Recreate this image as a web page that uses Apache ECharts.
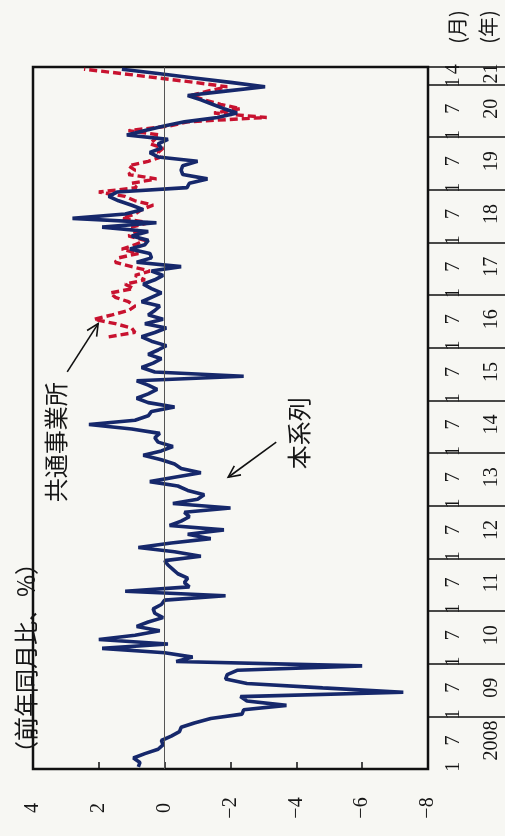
<!DOCTYPE html>
<html>
<head>
<meta charset="utf-8">
<script src="https://cdn.jsdelivr.net/npm/echarts@6/dist/echarts.min.js"></script>
<style>
html,body{margin:0;padding:0;background:#f7f7f3;}
#c{width:505px;height:836px;}
</style>
</head>
<body>
<div id="c"></div>
<script>
// ---------- data ----------
const yearLabels = ['2008','09','10','11','12','13','14','15','16','17','18','19','20','21'];
const firstYear = 2008;
const lastYearMonths = 4; // data runs to April 2021
const monthMarks = [1, 7];
const valueMin = -8, valueMax = 4, valueInterval = 2;

// 本系列 (monthly, Jan 2008 - Apr 2021)
const honkeiretsu = [
  // 2008
  0.8, 0.75, 0.95, 0.6, 0.2, 0.05, 0.1, -0.2, -0.45, -0.5, -0.9, -1.4,
  // 2009
  -2.35, -2.4, -3.7, -2.5, -2.3, -7.25, -4.8, -2.5, -1.85, -1.9, -2.2, -6.0,
  // 2010
  -0.35, -0.85, 0.0, 1.9, -0.1, 2.0, 0.9, 0.15, 0.85, 0.5, 0.05, 0.3,
  // 2011
  0.35, 0.1, 0.0, -1.85, 1.2, -0.75, -0.6, -0.7, -0.4, -0.25, -0.1, 0.0,
  // 2012
  -1.1, -0.3, 0.8, -0.2, -1.4, -0.7, -1.8, -0.15, -0.5, -0.75, -0.6, -2.0,
  // 2013
  -0.25, -1.0, -1.2, -0.7, -0.4, 0.45, -0.3, -1.1, -0.5, -0.3, 0.1, 0.65,
  // 2014
  0.1, -0.25, 0.2, 0.3, 0.15, 1.0, 2.3, 0.9, 0.5, 0.4, -0.3, 0.5,
  // 2015
  0.85, 0.5, 0.23, 0.5, 0.85, -2.4, 0.3, 0.7, 0.35, 0.1, 0.5, 0.2,
  // 2016
  -0.05, 0.4, 0.7, 0.3, -0.05, 0.6, 0.05, 0.5, 0.3, 0.15, 0.7, 0.4,
  // 2017
  0.1, 0.4, 0.65, 0.3, 0.05, 0.4, -0.5, 0.85, 0.4, 0.45, 1.05, 0.6,
  // 2018
  0.5, 1.0, 0.5, 1.9, 0.25, 2.8, 1.2, 0.65, 1.0, 1.4, 1.7, 1.45,
  // 2019
  -0.68, -0.75, -1.3, -0.55, -0.5, -0.55, -1.0, 0.2, 0.45, 0.1, 0.2, -0.1,
  // 2020
  1.15, 0.6, 0.05, -0.6, -1.6, -2.2, -1.8, -1.45, -1.1, -0.7, -1.85, -3.05,
  // 2021
  -2.0, -0.9, 0.2, 1.3
];

// 共通事業所 (from Mar 2016)
const kyotsuJigyosho = [
  // 2008-2015
  null,null,null,null,null,null,null,null,null,null,null,null,
  null,null,null,null,null,null,null,null,null,null,null,null,
  null,null,null,null,null,null,null,null,null,null,null,null,
  null,null,null,null,null,null,null,null,null,null,null,null,
  null,null,null,null,null,null,null,null,null,null,null,null,
  null,null,null,null,null,null,null,null,null,null,null,null,
  null,null,null,null,null,null,null,null,null,null,null,null,
  null,null,null,null,null,null,null,null,null,null,null,null,
  // 2016
  null, null, 1.7, 0.9, 1.0, 1.5, 2.15, 1.6, 1.1, 0.9, 1.1, 1.5,
  // 2017
  1.65, 0.95, 1.2, 0.6, 0.9, 0.45, 1.0, 1.5, 1.4, 0.8, 1.3, 0.9,
  // 2018
  0.6, 1.1, 0.8, 1.0, 0.5, 1.3, 0.9, 0.7, 0.35, 0.9, 1.2, 2.0,
  // 2019
  0.85, 1.0, 0.25, 1.1, 0.9, 1.1, 0.5, 0.1, 0.2, 0.05, 0.45, 0.3,
  // 2020
  0.15, 1.1, -0.1, -0.7, -3.1, -1.5, -2.3, -1.7, -1.2, -0.8, -1.3, -1.9,
  // 2021
  -0.9, 0.2, 1.3, 2.45
];

// annotation anchors in data coordinates [value, monthIndex]
const noteKyotsu = { text: '共通事業所', at: [3.3, 74.3], from: [2.96, 89.8], to: [2.02, 100.9] };
const noteHon = { text: '本系列', at: [-4.09, 76.3], from: [-3.39, 73.8], to: [-1.93, 65.8] };

// ---------- categories ----------
const categories = [];
yearLabels.forEach((yl, k) => {
  const n = (k === yearLabels.length - 1) ? lastYearMonths : 12;
  for (let m = 1; m <= n; m++) categories.push((firstYear + k) + '/' + m);
});
const monthOf = v => Number(String(v).split('/')[1]);
const lastIndex = categories.length - 1;
const yearLabelIndex = {};
yearLabels.forEach((yl, k) => {
  const start = k * 12;
  const n = (k === yearLabels.length - 1) ? lastYearMonths : 12;
  yearLabelIndex[start + Math.floor(n / 2)] = yl;
});

const SERIF = "'Liberation Serif','DejaVu Serif',serif";
const CJK = "'Noto Sans CJK JP','Noto Sans',sans-serif";
const INK = '#161616';

const chart = echarts.init(document.getElementById('c'), null, { renderer: 'canvas' });

const option = {
  backgroundColor: '#f7f7f3',
  animation: false,
  grid: {
    left: 33, right: 77, top: 67, bottom: 67,
    show: true, borderColor: '#111', borderWidth: 2.5,
    backgroundColor: 'transparent',
    containLabel: false,
    outerBoundsMode: 'none'
  },
  xAxis: {
    type: 'value', min: valueMin, max: valueMax, interval: valueInterval,
    inverse: true, position: 'bottom',
    axisLine: { show: false, onZero: false },
    axisTick: { show: true, inside: true, length: 7, lineStyle: { color: '#111', width: 1.5 } },
    splitLine: { show: false },
    axisLabel: {
      rotate: 90, align: 'center', verticalAlign: 'middle', margin: 39,
      fontFamily: SERIF, fontSize: 20, color: INK,
      formatter: v => (v < 0 ? '\u2212' + (-v) : String(v))
    }
  },
  yAxis: [
    {
      type: 'category', data: categories, boundaryGap: true, position: 'right',
      axisLine: { show: false, onZero: false },
      axisTick: {
        show: true, inside: false, length: 77,
        interval: (i) => i > 0 && i % 12 === 0,
        lineStyle: { color: '#111', width: 1.5 }
      },
      splitLine: { show: false },
      axisLabel: {
        rotate: 90, margin: 16, fontFamily: SERIF, fontSize: 20, color: INK,
        interval: 0, hideOverlap: false,
        formatter: (v, i) => (monthMarks.indexOf(monthOf(v)) >= 0 || i === lastIndex) ? String(monthOf(v)) : ''
      }
    },
    {
      type: 'category', data: categories, boundaryGap: true, position: 'right',
      axisLine: { show: false, onZero: false }, axisTick: { show: false }, splitLine: { show: false },
      axisLabel: {
        rotate: 90, margin: 54, fontFamily: SERIF, fontSize: 20, color: INK,
        interval: 0, hideOverlap: false,
        formatter: (v, i) => yearLabelIndex[i] || ''
      }
    }
  ],
  series: [
    {
      name: '共通事業所', type: 'line', yAxisIndex: 0, data: kyotsuJigyosho,
      showSymbol: false, symbol: 'none', connectNulls: false,
      lineStyle: { color: '#c8122f', width: 3.4, type: [8, 4] },
      markLine: {
        silent: true, symbol: 'none', label: { show: false },
        lineStyle: { color: '#555', width: 1, type: 'solid' },
        data: [{ xAxis: 0 }]
      }
    },
    {
      name: '本系列', type: 'line', yAxisIndex: 0, data: honkeiretsu,
      showSymbol: false, symbol: 'none',
      lineStyle: { color: '#16286b', width: 3.6 }
    }
  ]
};
chart.setOption(option);

// ---------- annotations (positioned from data coordinates) ----------
function px(p) { return chart.convertToPixel({ gridIndex: 0 }, p); }
function arrow(from, to) {
  const a = px(from), b = px(to);
  const dx = b[0] - a[0], dy = b[1] - a[1];
  const len = Math.sqrt(dx * dx + dy * dy);
  const ux = dx / len, uy = dy / len;
  const L = 13, th = 0.45;
  const arm = s => {
    const c = Math.cos(s * th), sn = Math.sin(s * th);
    const rx = ux * c - uy * sn, ry = ux * sn + uy * c;
    return [b[0] - rx * L, b[1] - ry * L];
  };
  return [
    { type: 'line', shape: { x1: a[0], y1: a[1], x2: b[0], y2: b[1] }, style: { stroke: '#111', lineWidth: 1.6 } },
    { type: 'polyline', shape: { points: [arm(1), b, arm(-1)] }, style: { stroke: '#111', lineWidth: 1.6, fill: null } }
  ];
}
function vtext(text, x, y, size, family) {
  return {
    type: 'text', x: x, y: y, rotation: Math.PI / 2,
    style: { text: text, fontSize: size, fontFamily: family, fill: INK, align: 'center', verticalAlign: 'middle' }
  };
}
const k1 = px(noteKyotsu.at), h1 = px(noteHon.at);
chart.setOption({
  graphic: [
    vtext('（前年同月比、%）', 26, 658, 24, CJK),
    vtext('(月)', 457, 27, 20, CJK),
    vtext('(年)', 488, 27, 20, CJK),
    vtext(noteKyotsu.text, k1[0], k1[1], 24, CJK),
    vtext(noteHon.text, h1[0], h1[1], 24, CJK)
  ].concat(arrow(noteKyotsu.from, noteKyotsu.to)).concat(arrow(noteHon.from, noteHon.to))
});
</script>
</body>
</html>
